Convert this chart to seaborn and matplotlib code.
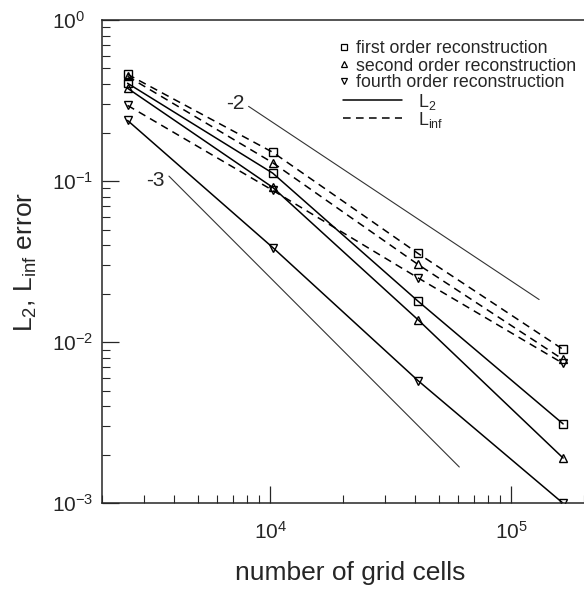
import numpy as np
import pandas as pd
import matplotlib
matplotlib.use("Agg")
import matplotlib.pyplot as plt
from matplotlib.lines import Line2D
from matplotlib.ticker import NullFormatter
import seaborn as sns

# ---- data ----
cells = [2560, 10240, 40960, 163840]
schemes = ["first order reconstruction", "second order reconstruction", "fourth order reconstruction"]
markers = ["s", "^", "v"]
l2_first = [0.405, 0.112, 0.0180, 0.00311]
l2_second = [0.377, 0.0914, 0.0138, 0.00191]
l2_fourth = [0.238, 0.0387, 0.00578, 0.00100]
linf_first = [0.46, 0.151, 0.0356, 0.00902]
linf_second = [0.447, 0.130, 0.0304, 0.00781]
linf_fourth = [0.295, 0.0876, 0.0251, 0.00738]

slope2_x = [8130, 130300]
slope2_y = [0.291, 0.0184]
slope3_x = [3800, 60800]
slope3_y = [0.1074, 0.00168]
slope_labels = ["-2", "-3"]
slope_label_x = [7170, 3346]
slope_label_y = [0.3126, 0.1035]

y_ticks = [1e-3, 1e-2, 1e-1, 1]

rows = []
for sch, l2, li in zip(schemes, [l2_first, l2_second, l2_fourth], [linf_first, linf_second, linf_fourth]):
    for c, a, b in zip(cells, l2, li):
        rows.append(dict(cells=c, error=a, scheme=sch, norm="L2"))
        rows.append(dict(cells=c, error=b, scheme=sch, norm="Linf"))
df = pd.DataFrame(rows)

# ---- style ----
sns.set_style("ticks")
plt.rcParams["font.family"] = ["Liberation Sans", "DejaVu Sans"]
plt.rcParams["mathtext.fontset"] = "custom"
plt.rcParams["mathtext.rm"] = "Liberation Sans"
plt.rcParams["mathtext.it"] = "Liberation Sans:italic"
plt.rcParams["mathtext.default"] = "regular"

fig = plt.figure(figsize=(5.84, 5.91), dpi=100)
W, H = 584, 591
ax_left, ax_right, ax_top, ax_bot = 101.7, 584.0, 20.0, 503.3
ax = fig.add_axes([ax_left / W, 1 - ax_bot / H, (ax_right - ax_left) / W, (ax_bot - ax_top) / H])
ax.set_xscale("log")
ax.set_yscale("log")

dash = (0, (5, 3.5))
for sch, mk in zip(schemes, markers):
    for norm, ls in [("L2", "-"), ("Linf", dash)]:
        sub = df[(df.scheme == sch) & (df.norm == norm)]
        sns.lineplot(data=sub, x="cells", y="error", ax=ax, color="black", lw=1.1,
                     linestyle=ls, marker=mk, markersize=6, markerfacecolor="none",
                     markeredgecolor="black", markeredgewidth=1.0, legend=False,
                     errorbar=None)

sns.lineplot(x=slope2_x, y=slope2_y, ax=ax, color="#333333", lw=0.8, legend=False, errorbar=None)
sns.lineplot(x=slope3_x, y=slope3_y, ax=ax, color="#333333", lw=0.8, legend=False, errorbar=None)
for t, x, y in zip(slope_labels, slope_label_x, slope_label_y):
    ax.text(x, y, t, fontsize=15, ha="center", va="center_baseline")

ax.set_xlim(2000, 2e5)
ax.set_ylim(1e-3, 1)
ax.set_yticks(y_ticks)
ax.xaxis.set_minor_formatter(NullFormatter())
ax.yaxis.set_minor_formatter(NullFormatter())
ax.tick_params(which="major", direction="in", length=12, width=0.9, labelsize=15)
ax.tick_params(which="minor", direction="in", length=6, width=0.8)
ax.tick_params(axis="x", which="both", pad=13, top=False)
ax.tick_params(axis="y", which="both", pad=35.8, right=False)
for lbl in ax.get_yticklabels():
    lbl.set_horizontalalignment("left")
ax.spines["right"].set_visible(False)
for s in ["left", "bottom", "top"]:
    ax.spines[s].set_linewidth(1.1)

ax.set_xlabel("number of grid cells", fontsize=19)
ax.set_ylabel("L$_2$, L$_{inf}$ error", fontsize=19)
ax.xaxis.set_label_coords(0.516, -0.119)
ax.yaxis.set_label_coords(-0.129, 0.5)

# ---- custom legend (Tecplot style) ----
leg_y = [46.7, 64.3, 80.5, 99.5, 117.5]
for sch, mk, py in zip(schemes, markers, leg_y[:3]):
    fig.add_artist(Line2D([344 / W], [1 - py / H], marker=mk, markersize=4.5, markerfacecolor="none",
                          markeredgecolor="black", markeredgewidth=0.9, linestyle="none"))
    fig.text(356 / W, 1 - py / H, sch, fontsize=12.8, ha="left", va="center_baseline")
for lab, ls, py in zip(["L$_2$", "L$_{inf}$"], ["-", dash], leg_y[3:]):
    fig.add_artist(Line2D([343 / W, 402 / W], [1 - py / H, 1 - py / H], color="black", lw=1.1, linestyle=ls))
    fig.text(418 / W, 1 - py / H, lab, fontsize=12.8, ha="left", va="center_baseline")

fig.savefig("out.png", dpi=100)
